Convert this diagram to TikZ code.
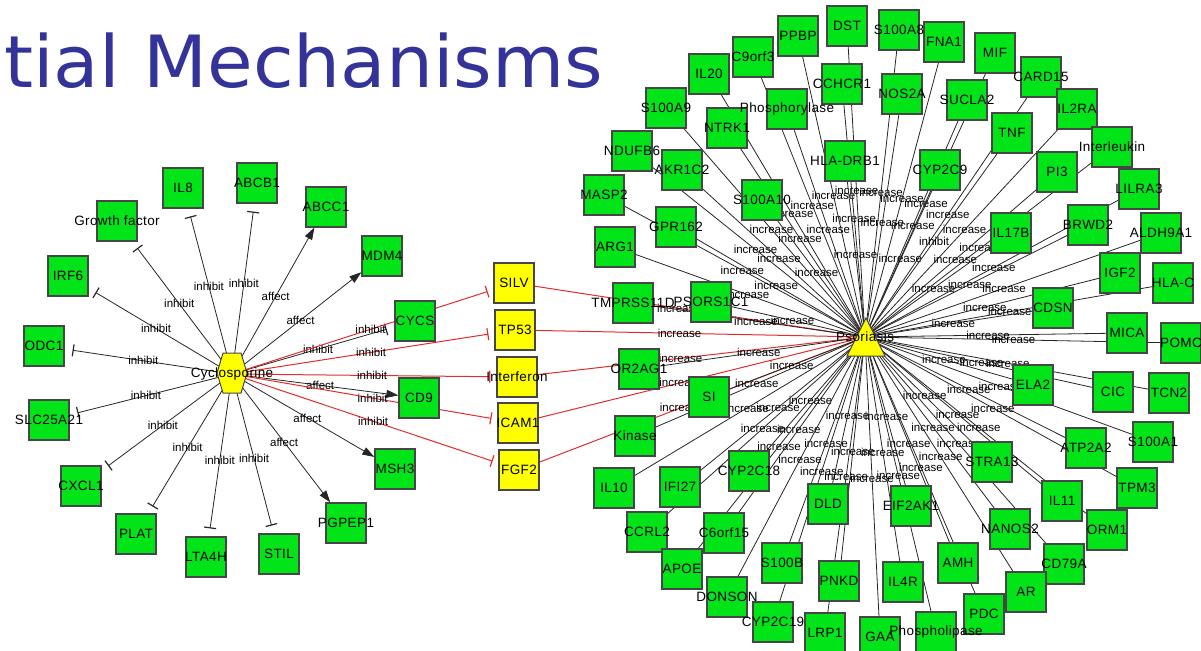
\documentclass[tikz,border=0pt]{standalone}
\usepackage{fontspec}
\setmainfont{Liberation Sans}
\newfontfamily\genefont[LetterSpace=3]{Liberation Sans}
\newfontfamily\titlefont[FakeStretch=1.03]{DejaVu Sans}
\usetikzlibrary{arrows.meta}

\pgfdeclarelayer{background}
\pgfdeclarelayer{boxes}
\pgfsetlayers{background,boxes,main}

\definecolor{genegreen}{RGB}{0,228,24}
\definecolor{hubyellow}{RGB}{255,255,0}
\definecolor{boxline}{RGB}{70,70,70}
\definecolor{titleblue}{RGB}{51,51,153}
\definecolor{inhibitred}{RGB}{225,45,45}

\tikzset{
  genebox/.style={draw=boxline, line width=1.3pt, fill=genegreen,
    minimum width=40pt, minimum height=40pt, inner sep=0pt},
  yellowbox/.style={genebox, fill=hubyellow},
  genetext/.style={inner sep=0pt, font=\genefont\fontsize{13.5}{15}\selectfont},
  hubtext/.style={genetext},
  link/.style={draw=black!85, line width=0.8pt},
  edgelabel/.style={inner sep=0pt, font=\fontsize{11.5}{12}\selectfont},
  inhibit/.style={link, -{Bar[width=12pt,line width=1.2pt]}, shorten >=8pt},
  affect/.style={link, -{Triangle[length=12pt,width=8pt]}},
  redinhibit/.style={draw=inhibitred, line width=1pt,
    -{Bar[width=12pt,line width=1.2pt]}, shorten >=6pt},
  redlink/.style={draw=inhibitred, line width=1pt},
}

% a box on the box layer, its name written above every box
\newcommand{\genebox}[3]{%
  \begin{pgfonlayer}{boxes}\node[genebox] (#1) at (#2) {};\end{pgfonlayer}
  \node[genetext] (#1-t) at (#1.center) {#3};}
\newcommand{\yellowbox}[3]{%
  \begin{pgfonlayer}{boxes}\node[yellowbox] (#1) at (#2) {};\end{pgfonlayer}
  \node[genetext] (#1-t) at (#1.center) {#3};}

\begin{document}
\begin{tikzpicture}[x=1pt, y=-1pt]
\path[use as bounding box] (0,0) rectangle (1201,650);

% heading
\node[anchor=base west, inner sep=0pt, text=titleblue,
      font=\titlefont\fontsize{72}{86}\selectfont] (title) at (4,88) {tial Mechanisms};

% ---------- Cyclosporine hub ----------
\begin{pgfonlayer}{boxes}
\filldraw[fill=hubyellow, draw=boxline, line width=1pt]
  (217,373) -- (223,353) -- (241,353) -- (247,373) -- (241,393) -- (223,393) -- cycle;
\end{pgfonlayer}
\node[hubtext] (cy) at (232,374) {Cyclosporine};

\genebox{gf}{117,221}{Growth factor}
\genebox{il8}{183,188}{IL8}
\genebox{abcb1}{257,183}{ABCB1}
\genebox{abcc1}{326,207}{ABCC1}
\genebox{mdm4}{382,256}{MDM4}
\genebox{irf6}{68,276}{IRF6}
\genebox{odc1}{44,346}{ODC1}
\genebox{slc}{49,420}{SLC25A21}
\genebox{cxcl1}{81,486}{CXCL1}
\genebox{plat}{136,534}{PLAT}
\genebox{lta4h}{206,557}{LTA4H}
\genebox{stil}{279,554}{STIL}
\genebox{pgpep1}{346,523}{PGPEP1}
\genebox{msh3}{395,469}{MSH3}
\genebox{cd9}{419,398}{CD9}
\genebox{cycs}{415,321}{CYCS}

% ---------- yellow column ----------
\yellowbox{silv}{514,283}{SILV}
\yellowbox{tp53}{515,330}{TP53}
\yellowbox{ifn}{517,377}{Interferon}
\yellowbox{icam1}{518,423}{ICAM1}
\yellowbox{fgf2}{519,470}{FGF2}

% ---------- Psoriasis cluster ----------
\genebox{ppbp}{798,36}{PPBP}
\genebox{dst}{847,26}{DST}
\genebox{s100a8}{899,30}{S100A8}
\genebox{fna1}{944,42}{FNA1}
\genebox{mif}{995,53}{MIF}
\genebox{card15}{1041,77}{CARD15}
\genebox{c9orf3}{753,57}{C9orf3}
\genebox{il20}{709,74}{IL20}
\genebox{cchcr1}{842,84}{CCHCR1}
\genebox{nos2a}{902,94}{NOS2A}
\genebox{sucla2}{967,100}{SUCLA2}
\genebox{il2ra}{1077,109}{IL2RA}
\genebox{tnf}{1012,133}{TNF}
\genebox{interleukin}{1112,147}{Interleukin}
\genebox{s100a9}{666,108}{S100A9}
\genebox{ntrk1}{727,128}{NTRK1}
\genebox{phos}{787,109}{Phosphorylase}
\genebox{hladrb1}{845,161}{HLA-DRB1}
\genebox{cyp2c9}{940,170}{CYP2C9}
\genebox{pi3}{1057,172}{PI3}
\genebox{lilra3}{1139,189}{LILRA3}
\genebox{ndufb6}{632,151}{NDUFB6}
\genebox{akr1c2}{682,170}{AKR1C2}
\genebox{s100a10}{762,200}{S100A10}
\genebox{masp2}{604,195}{MASP2}
\genebox{gpr162}{676,227}{GPR162}
\genebox{il17b}{1011,233}{IL17B}
\genebox{brwd2}{1088,225}{BRWD2}
\genebox{aldh9a1}{1161,233}{ALDH9A1}
\genebox{arg1}{615,247}{ARG1}
\genebox{igf2}{1120,273}{IGF2}
\genebox{hlac}{1173,283}{HLA-C}
\genebox{tmprss}{633,303}{TMPRSS11D}
\genebox{psors}{711,302}{PSORS1C1}
\genebox{cdsn}{1053,308}{CDSN}
\genebox{mica}{1127,333}{MICA}
\genebox{pomc}{1181,343}{POMC}
\genebox{or2ag1}{639,369}{OR2AG1}
\genebox{ela2}{1033,385}{ELA2}
\genebox{cic}{1113,392}{CIC}
\genebox{tcn2}{1169,393}{TCN2}
\genebox{si}{709,397}{SI}
\genebox{kinase}{635,436}{Kinase}
\genebox{atp2a2}{1086,448}{ATP2A2}
\genebox{s100a1}{1153,442}{S100A1}
\genebox{il10}{614,488}{IL10}
\genebox{ifi27}{680,487}{IFI27}
\genebox{cyp2c18}{749,471}{CYP2C18}
\genebox{stra13}{992,462}{STRA13}
\genebox{il11}{1062,501}{IL11}
\genebox{tpm3}{1137,488}{TPM3}
\genebox{ccrl2}{647,532}{CCRL2}
\genebox{c6orf15}{724,533}{C6orf15}
\genebox{dld}{828,504}{DLD}
\genebox{eif2ak1}{911,506}{EIF2AK1}
\genebox{nanos2}{1010,529}{NANOS2}
\genebox{orm1}{1107,530}{ORM1}
\genebox{cd79a}{1064,564}{CD79A}
\genebox{apoe}{682,569}{APOE}
\genebox{s100b}{782,563}{S100B}
\genebox{pnkd}{839,581}{PNKD}
\genebox{il4r}{903,582}{IL4R}
\genebox{amh}{958,563}{AMH}
\genebox{ar}{1026,592}{AR}
\genebox{donson}{727,597}{DONSON}
\genebox{cyp2c19}{773,622}{CYP2C19}
\genebox{lrp1}{825,633}{LRP1}
\genebox{gaa}{880,637}{GAA}
\genebox{phospholipase}{936,632}{Phospholipase}
\genebox{pdc}{984,614}{PDC}

\begin{pgfonlayer}{boxes}
\filldraw[fill=hubyellow, draw=boxline, line width=1pt]
  (866,318) -- (885,356) -- (847,356) -- cycle;
\end{pgfonlayer}
\node[hubtext] (ps) at (865,337) {Psoriasis};

% ---------- connectors, kept beneath the boxes ----------
\begin{pgfonlayer}{background}
  % Cyclosporine effects
  \foreach \t in {gf,il8,abcb1,irf6,odc1,slc,cxcl1,plat,lta4h,stil,cycs}
    \draw[inhibit] (cy.center) -- node[edgelabel,pos=0.53]{inhibit} (\t);
  \foreach \t in {abcc1,mdm4,pgpep1,msh3,cd9}
    \draw[affect] (cy.center) -- node[edgelabel,pos=0.53]{affect} (\t);
  \foreach \t in {silv,tp53,ifn,icam1,fgf2}
    \draw[redinhibit] (cy.center) -- node[edgelabel,pos=0.53]{inhibit} (\t);

  % yellow column into Psoriasis
  \foreach \s in {silv,tp53,ifn,icam1,fgf2}
    \draw[redlink] (\s.center) -- node[edgelabel,pos=0.47]{increase} (ps.center);

  % Psoriasis associations
  \foreach \t in {ppbp,dst,s100a8,fna1,mif,card15,c9orf3,il20,cchcr1,nos2a,
      sucla2,il2ra,interleukin,s100a9,ntrk1,phos,hladrb1,cyp2c9,pi3,lilra3,
      ndufb6,akr1c2,s100a10,masp2,gpr162,il17b,brwd2,aldh9a1,arg1,igf2,hlac,
      tmprss,psors,cdsn,mica,pomc,or2ag1,ela2,cic,tcn2,si,kinase,atp2a2,
      s100a1,il10,ifi27,cyp2c18,stra13,il11,tpm3,ccrl2,c6orf15,dld,eif2ak1,
      nanos2,orm1,cd79a,apoe,s100b,pnkd,il4r,amh,ar,donson,cyp2c19,lrp1,gaa,
      phospholipase,pdc}
    \draw[link] (ps.center) -- node[edgelabel,pos=0.47]{increase} (\t.center);
  \draw[link] (ps.center) -- node[edgelabel,pos=0.47]{inhibit} (tnf.center);
\end{pgfonlayer}
\end{tikzpicture}
\end{document}
